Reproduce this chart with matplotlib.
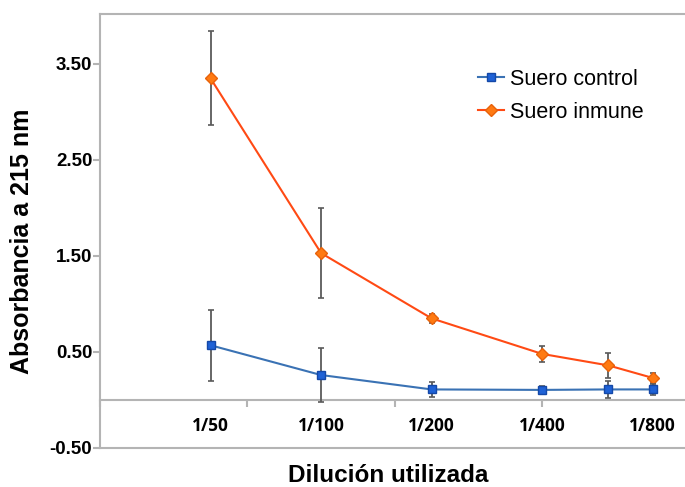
import numpy as np
import matplotlib
matplotlib.use('Agg')
import matplotlib.pyplot as plt
from matplotlib.lines import Line2D

plt.rcParams['font.family'] = ['Liberation Sans', 'DejaVu Sans']

# dilution series (the 5th point has no label on the axis)
x_pos = [1, 2, 3, 4, 4.6, 5]
dil_labels = ['1/50', '1/100', '1/200', '1/400', '1/800']
label_idx = [0, 1, 2, 3, 5]

control = [0.57, 0.26, 0.11, 0.105, 0.11, 0.11]
control_err = [0.37, 0.28, 0.075, 0.04, 0.09, 0.06]

inmune = [3.35, 1.53, 0.85, 0.48, 0.36, 0.23]
inmune_err = [0.49, 0.465, 0.045, 0.08, 0.13, 0.05]

fig = plt.figure(figsize=(6.85, 4.87), dpi=100)
ax = fig.add_axes([100/685, 1-448/487, 589.5/685, 434/487])

frame = '#b4b4b4'
styles = {
    'Suero control': dict(color='#3a72b4', marker='s', ms=6, mfc='#1f62d6', mec='#1448a8'),
    'Suero inmune': dict(color='#ff4a14', marker='D', ms=6.5, mfc='#ff7a12', mec='#e8620a'),
}
ax.errorbar(x_pos, inmune, yerr=inmune_err, lw=1.5,
            ecolor='#5a5a5a', elinewidth=1.3, capsize=2.5, capthick=1.2,
            zorder=3, **styles['Suero inmune'])
ax.errorbar(x_pos, control, yerr=control_err, lw=1.5,
            ecolor='#5a5a5a', elinewidth=1.3, capsize=2.5, capthick=1.2,
            zorder=4, **styles['Suero control'])

ax.set_xlim(0, 16/3)
ax.set_ylim(-0.5, 4.02)

# x axis sits on zero, the frame closes at -0.5
ax.spines['bottom'].set_position(('data', 0))
ax.spines['right'].set_visible(False)
for s in ['left', 'bottom', 'top']:
    ax.spines[s].set_color(frame)
    ax.spines[s].set_linewidth(1.5)
ax.axhline(-0.5, color=frame, lw=1.5, clip_on=False, zorder=1)

ax.set_yticks([-0.5, 0.5, 1.5, 2.5, 3.5])
ax.set_yticklabels(['-0.50', '0.50', '1.50', '2.50', '3.50'],
                   fontsize=13.5, fontweight='bold')
ax.set_xticks([0, 4/3, 8/3, 4, 16/3])
ax.set_xticklabels([])
ax.tick_params(axis='both', color=frame, width=1.5, length=5, pad=0.5)

for i, lab in zip(label_idx, dil_labels):
    ax.text(x_pos[i], -0.27, lab, ha='center', va='center',
            fontsize=12.5, fontweight='bold', family='Open Sans')

fig.text(22/685, 1-241/487, 'Absorbancia a 215 nm', rotation=90,
         ha='center', va='center', fontsize=18, fontweight='bold')
fig.text(388/685, 1-475/487, 'Dilución utilizada',
         ha='center', va='center', fontsize=17.5, fontweight='bold')

# legend entries: line + marker only
handles = [Line2D([], [], lw=1.5, **styles[k]) for k in styles]
ax.legend(handles, list(styles), loc='upper left', bbox_to_anchor=(478/685, 1-69/487),
          bbox_transform=fig.transFigure, frameon=False, fontsize=15.5,
          borderpad=0, borderaxespad=0, handlelength=1.2, handletextpad=0.3,
          labelspacing=0.55)

fig.savefig('out.png', dpi=100)
